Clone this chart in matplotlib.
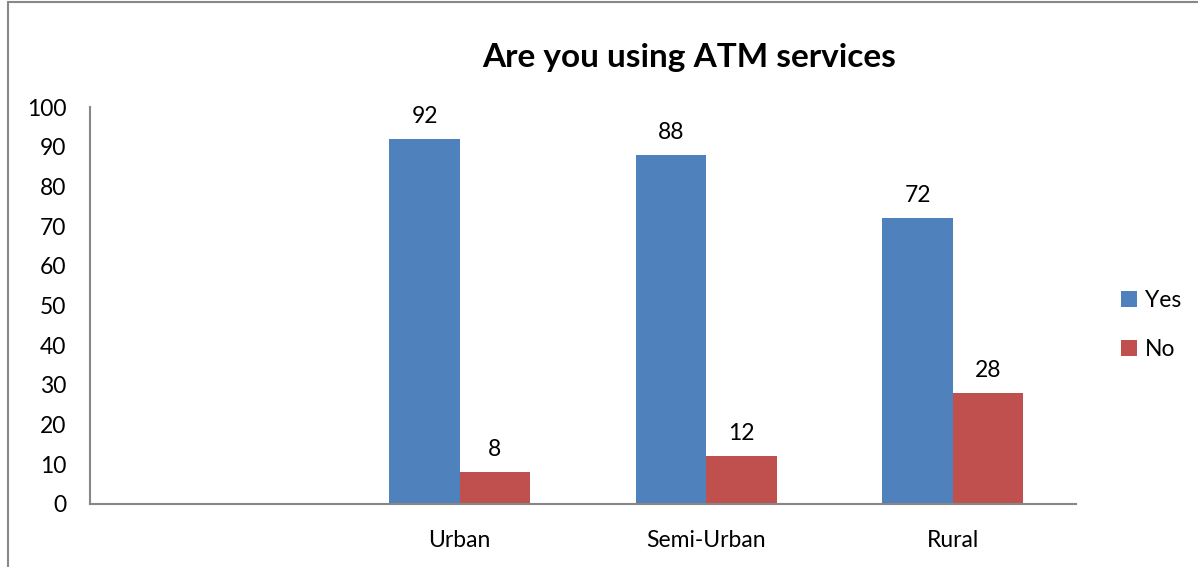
import numpy as np
import matplotlib.pyplot as plt
from matplotlib.patches import Rectangle

plt.rcParams['font.family'] = ['Lato', 'DejaVu Sans']

# Data
categories = ['', 'Urban', 'Semi-Urban', 'Rural']
yes_values = [np.nan, 92, 88, 72]
no_values = [np.nan, 8, 12, 28]

fig = plt.figure(figsize=(11.98, 5.67), dpi=100)
ax = fig.add_axes([90 / 1198, 1 - 504 / 567, 986 / 1198, 397 / 567])

# Chart frame (left and top edges visible)
fig.patches.append(Rectangle((8 / 1198, -0.1), 1.2, 1 - 2 / 567 + 0.1,
                             transform=fig.transFigure, fill=False,
                             edgecolor='#888888', linewidth=1.5))

x = np.arange(len(categories))
w = 1 / 3.5
bars_yes = ax.bar(x - w / 2, yes_values, w, color='#4F81BD', label='Yes')
bars_no = ax.bar(x + w / 2, no_values, w, color='#C0504D', label='No')

for bars, vals in [(bars_yes, yes_values), (bars_no, no_values)]:
    for b, v in zip(bars, vals):
        if np.isnan(v):
            continue
        ax.text(b.get_x() + b.get_width() / 2, v + 3, f'{v:g}',
                ha='center', va='bottom', fontsize=16.5)

ax.set_xlim(-0.5, len(categories) - 0.5)
ax.set_ylim(0, 100)
ax.set_yticks(range(0, 101, 10))
ax.set_xticks(x)
ax.set_xticklabels(categories)
ax.tick_params(axis='both', length=0, labelsize=16.5)
ax.tick_params(axis='y', pad=17)
ax.tick_params(axis='x', pad=19)

for side in ['top', 'right']:
    ax.spines[side].set_visible(False)
for side in ['left', 'bottom']:
    ax.spines[side].set_color('#868686')
    ax.spines[side].set_linewidth(1.5)

fig.text(689 / 1198, 1 - 58 / 567, 'Are you using ATM services',
         ha='center', va='center', fontsize=24, fontweight='bold')

fig.legend(loc='center left', bbox_to_anchor=(1100 / 1198, 1 - 325 / 567),
           frameon=False, fontsize=16.5, handlelength=0.7, handleheight=0.7,
           labelspacing=1.25, handletextpad=0.35)

plt.savefig('out.png', dpi=100)
